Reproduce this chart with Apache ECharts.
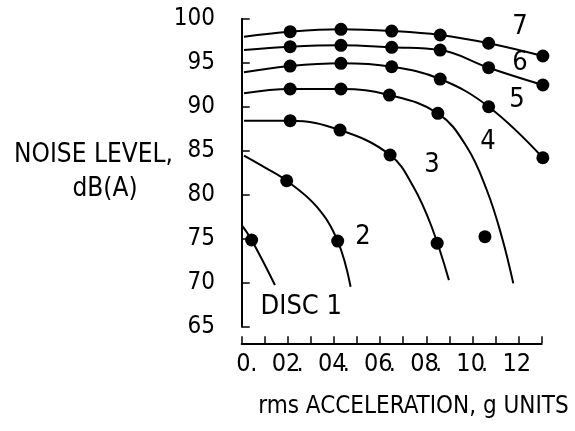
<!DOCTYPE html>
<html><head><meta charset="utf-8">
<script src="https://cdn.jsdelivr.net/npm/echarts@6/dist/echarts.min.js"></script>
<style>html,body{margin:0;padding:0;background:#fff}#c{width:575px;height:431px}</style>
</head><body><div id="c"></div>
<script>
const FONT = "'DejaVu Sans Condensed','Liberation Sans Narrow',sans-serif";

// tick labels
const xTickLabels = ['0', '.02', '.04', '.06', '.08', '.10', '.12'];
const yTickLabels = ['65', '70', '75', '80', '85', '90', '95', '100'];

// curve labels
const discLabels = ['DISC 1', '2', '3', '4', '5', '6', '7'];
const discLabelX = [0.0258, 0.0525, 0.0824, 0.1067, 0.1193, 0.1206, 0.1206];
const discLabelY = [67.2, 75.2, 83.4, 86.0, 90.8, 95.0, 99.1];

// measured points (rms acceleration g, noise level dB(A))
const dot1X = [0.0043];
const dot1Y = [74.86];
const dot2X = [0.0195, 0.0416];
const dot2Y = [81.6, 74.74];
const dot3X = [0.021, 0.0426, 0.0643, 0.0847];
const dot3Y = [88.43, 87.37, 84.53, 74.5];
const dot4X = [0.021, 0.043, 0.064, 0.085, 0.1054];
const dot4Y = [92.04, 92.04, 91.35, 89.27, 75.24];
const dot5X = [0.021, 0.043, 0.065, 0.086, 0.107, 0.1305];
const dot5Y = [94.65, 94.96, 94.57, 93.17, 90.02, 84.22];
const dot6X = [0.021, 0.043, 0.065, 0.086, 0.107, 0.1305];
const dot6Y = [96.85, 97.01, 96.78, 96.47, 94.46, 92.49];
const dot7X = [0.021, 0.043, 0.065, 0.086, 0.107, 0.1305];
const dot7Y = [98.56, 98.83, 98.63, 98.18, 97.24, 95.79];

// fitted curves
const curve1X = [0.0, 0.0043, 0.0144];
const curve1Y = [76.56, 74.86, 69.74];
const curve2X = [0.001, 0.0094, 0.0195, 0.0325, 0.0416, 0.0472];
const curve2Y = [84.45, 83.2, 81.6, 78.65, 74.74, 69.55];
const curve3X = [0.001, 0.021, 0.0426, 0.0643, 0.0744, 0.0823, 0.0898];
const curve3Y = [88.43, 88.43, 87.37, 84.53, 80.92, 76.37, 70.3];
const curve4X = [0.001, 0.021, 0.043, 0.064, 0.085, 0.0975, 0.1062, 0.1127, 0.1177];
const curve4Y = [91.55, 92.04, 92.04, 91.35, 89.27, 85.47, 80.55, 75.24, 69.93];
const curve5X = [0.001, 0.021, 0.043, 0.065, 0.086, 0.107, 0.1305];
const curve5Y = [93.94, 94.65, 94.96, 94.57, 93.17, 90.02, 84.22];
const curve6X = [0.001, 0.021, 0.043, 0.065, 0.086, 0.107, 0.1305];
const curve6Y = [96.47, 96.85, 97.01, 96.78, 96.47, 94.46, 92.49];
const curve7X = [0.001, 0.021, 0.043, 0.065, 0.086, 0.107, 0.1305];
const curve7Y = [97.99, 98.56, 98.83, 98.63, 98.18, 97.24, 95.79];

const zip = (xs, ys) => xs.map((x, i) => [x, ys[i]]);
const curves = [[curve1X, curve1Y], [curve2X, curve2Y], [curve3X, curve3Y], [curve4X, curve4Y],
                [curve5X, curve5Y], [curve6X, curve6Y], [curve7X, curve7Y]];
const dots = [[dot1X, dot1Y], [dot2X, dot2Y], [dot3X, dot3Y], [dot4X, dot4Y],
              [dot5X, dot5Y], [dot6X, dot6Y], [dot7X, dot7Y]];

const series = [];
curves.forEach(([xs, ys]) => {
  series.push({
    type: 'line', data: zip(xs, ys), showSymbol: false, smooth: 0.4, clip: false,
    lineStyle: { color: '#000', width: 2 }, silent: true, z: 2
  });
});
dots.forEach(([xs, ys]) => {
  series.push({
    type: 'scatter', data: zip(xs, ys), symbolSize: 13, clip: false,
    itemStyle: { color: '#000', opacity: 1 }, silent: true, z: 3
  });
});
series.push({
  type: 'scatter', symbolSize: 0, clip: false, silent: true,
  itemStyle: { opacity: 1 },
  data: discLabels.map((t, i) => ({ name: t, value: [discLabelX[i], discLabelY[i]] })),
  label: { show: true, position: 'inside', formatter: p => p.name, opacity: 1,
           fontFamily: FONT, fontSize: 27, color: '#000' }
});

const chart = echarts.init(document.getElementById('c'), null, { renderer: 'canvas' });
chart.setOption({
  animation: false,
  backgroundColor: '#fff',
  grid: { left: 241.7, right: 33.3, top: 19, bottom: 104.3 },
  xAxis: {
    type: 'value', min: 0, max: 0.13, interval: 0.01, offset: 16.6,
    axisLine: { lineStyle: { color: '#000', width: 2 } },
    axisTick: { inside: true, length: 7, lineStyle: { color: '#000', width: 1.5 } },
    splitLine: { show: false },
    axisLabel: {
      margin: 9, fontFamily: FONT, fontSize: 25, color: '#000', padding: [0, 25, 0, 0],
      formatter: v => {
        const i = Math.round(v * 100);
        if (i % 2) return '';
        const t = xTickLabels[i / 2];
        return t === '0' ? '    0' : t.replace('.', '.  ');
      }
    }
  },
  yAxis: {
    type: 'value', min: 65, max: 100, interval: 5, offset: 13.7,
    axisLine: { show: true, lineStyle: { color: '#000', width: 2 } },
    axisTick: { show: true, inside: true, length: 8, lineStyle: { color: '#000', width: 1.5 } },
    splitLine: { show: false },
    axisLabel: {
      margin: 13, fontFamily: FONT, fontSize: 24, color: '#000',
      formatter: v => yTickLabels[Math.round((v - 65) / 5)]
    }
  },
  graphic: [
    { type: 'text', x: 93.5, y: 155, style: { text: 'NOISE LEVEL,', align: 'center', verticalAlign: 'middle', fontFamily: FONT, fontSize: 26, fill: '#000' } },
    { type: 'text', x: 105, y: 189, style: { text: 'dB(A)', align: 'center', verticalAlign: 'middle', fontFamily: FONT, fontSize: 26, fill: '#000' } },
    { type: 'text', x: 413.5, y: 407, style: { text: 'rms ACCELERATION, g UNITS', align: 'center', verticalAlign: 'middle', fontFamily: FONT, fontSize: 24, fill: '#000' } }
  ],
  series: series
});
</script></body></html>
